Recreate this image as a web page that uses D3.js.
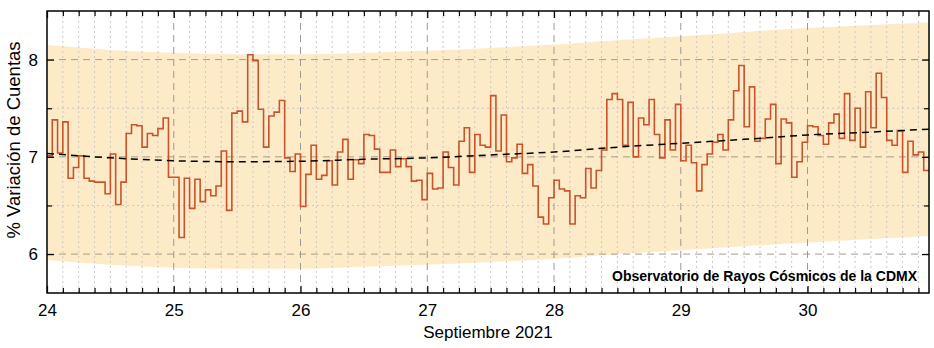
<!DOCTYPE html>
<html><head><meta charset="utf-8">
<script src="https://cdn.jsdelivr.net/npm/d3@7"></script>
<style>html,body{margin:0;padding:0;background:#fff;}svg{display:block;}</style>
</head><body>
<svg id="chart" width="934" height="348"></svg>
<script>
// Hourly values (% variation), one array per day of September 2021
const day24 = [7.01,7.38,7.04,7.36,6.78,6.89,7.01,6.78,6.75,6.74,6.74,6.62,7.03,6.51,6.74,7.24,7.33,7.32,7.10,7.24,7.22,7.29,7.40,6.79];
const day25 = [6.79,6.17,6.78,6.47,6.77,6.54,6.66,6.60,6.70,7.06,6.45,7.45,7.47,7.36,8.05,7.99,7.49,7.10,7.42,7.46,7.58,6.99,6.85,7.03];
const day26 = [6.49,6.82,7.12,6.77,6.81,6.96,6.71,7.05,7.18,6.77,6.97,6.93,7.23,7.22,7.08,6.84,6.84,7.07,6.90,6.98,6.90,6.75,6.76,6.56];
const day27 = [6.83,6.67,6.68,7.05,6.89,6.71,7.16,7.30,6.84,7.23,7.12,7.10,7.63,7.06,7.43,6.95,6.99,7.13,6.83,6.92,6.70,6.38,6.31,6.58];
const day28 = [6.76,6.67,6.65,6.31,6.60,6.58,6.88,6.68,6.86,7.07,7.59,7.65,7.59,7.12,7.56,7.00,7.40,7.33,7.59,7.23,6.99,7.38,7.07,7.54];
const day29 = [6.96,7.12,6.94,6.65,6.92,7.03,7.15,7.23,7.07,7.38,7.68,7.94,7.31,7.72,7.16,7.19,7.39,7.54,6.93,7.39,7.35,6.79,6.95,7.15];
const day30 = [7.32,7.31,7.22,7.13,7.35,7.44,7.19,7.65,7.17,7.50,7.10,7.67,7.30,7.86,7.61,7.17,7.12,7.27,6.84,7.16,7.02,7.05,6.86];
const dayStarts = [24,25,26,27,28,29,30];

// Trend and band (read at half-day points)
const trendDays  = [24,24.5,25,25.5,26,26.5,27,27.5,28,28.5,29,29.5,30,30.5,30.958];
const trendVals  = [7.035,6.99,6.96,6.95,6.955,6.975,6.99,7.02,7.05,7.10,7.14,7.18,7.225,7.255,7.285];
const bandUpper  = [8.15,8.10,8.07,8.055,8.055,8.07,8.09,8.12,8.155,8.20,8.24,8.285,8.325,8.355,8.385];
const bandLower  = [5.94,5.89,5.86,5.85,5.85,5.87,5.89,5.92,5.95,6.00,6.04,6.08,6.12,6.155,6.185];

const xTickLabels = ["24","25","26","27","28","29","30"];
const yTickVals = [6,7,8];
const yMinorVals = [6.5,7.5];

const W = 934, H = 348;
const m = {left:47, right:5, top:11, bottom:55};
const svg = d3.select("#chart");
const iw = W - m.left - m.right, ih = H - m.top - m.bottom;

// Build hourly series
const days = [day24,day25,day26,day27,day28,day29,day30];
const series = [];
days.forEach((arr,di)=>arr.forEach((v,h)=>series.push({t: dayStarts[di] + h/24, v})));
const tEnd = series[series.length-1].t + 1/24;
const stepData = series.concat([{t: tEnd, v: series[series.length-1].v}]);

const x = d3.scaleLinear().domain([24, tEnd]).range([m.left, m.left+iw]);
const y = d3.scaleLinear().domain([5.6, 8.5]).range([m.top+ih, m.top]);

const g = svg.append("g");
svg.append("defs").append("clipPath").attr("id","clip")
  .append("rect").attr("x",m.left).attr("y",m.top).attr("width",iw).attr("height",ih);

const plot = g.append("g").attr("clip-path","url(#clip)");

// Band
const bandData = trendDays.map((d,i)=>({t:d, hi:bandUpper[i], lo:bandLower[i]}));
plot.append("path").datum(bandData)
  .attr("d", d3.area().x(d=>x(d.t)).y0(d=>y(d.lo)).y1(d=>y(d.hi)).curve(d3.curveMonotoneX))
  .attr("fill","#fdebc8");

// Minor grid: 3-hour verticals
const nSteps = Math.floor((tEnd-24)*8+1e-6);
const allT = d3.range(0, nSteps+1).map(i=>24+i/8);
const isMajor = t=>Math.abs(t-Math.round(t))<1e-6;
const minorT = allT.filter(t=>!isMajor(t));
plot.selectAll(".vminor").data(minorT).enter().append("line")
  .attr("x1",d=>x(d)).attr("x2",d=>x(d)).attr("y1",m.top).attr("y2",m.top+ih)
  .attr("stroke","#c8c8c8").attr("stroke-width",1).attr("stroke-dasharray","2,3");
plot.selectAll(".hminor").data(yMinorVals).enter().append("line")
  .attr("x1",m.left).attr("x2",m.left+iw).attr("y1",d=>y(d)).attr("y2",d=>y(d))
  .attr("stroke","#c8c8c8").attr("stroke-width",1).attr("stroke-dasharray","2,3");

// Major grid
const majorT = dayStarts.slice(1);
plot.selectAll(".vmajor").data(majorT).enter().append("line")
  .attr("x1",d=>x(d)).attr("x2",d=>x(d)).attr("y1",m.top).attr("y2",m.top+ih)
  .attr("stroke","#9a9a9a").attr("stroke-width",1).attr("stroke-dasharray","7,5");
plot.selectAll(".hmajor").data(yTickVals).enter().append("line")
  .attr("x1",m.left).attr("x2",m.left+iw).attr("y1",d=>y(d)).attr("y2",d=>y(d))
  .attr("stroke","#a59c8a").attr("stroke-width",1).attr("stroke-dasharray","7,5");

// Data step line
plot.append("path").datum(stepData)
  .attr("d", d3.line().x(d=>x(d.t)).y(d=>y(d.v)).curve(d3.curveStepAfter))
  .attr("fill","none").attr("stroke","#c8532c").attr("stroke-width",1.6);

// Trend
plot.append("path").datum(trendDays.map((d,i)=>({t:d, v:trendVals[i]})))
  .attr("d", d3.line().x(d=>x(d.t)).y(d=>y(d.v)).curve(d3.curveMonotoneX))
  .attr("fill","none").attr("stroke","#000").attr("stroke-width",1.5).attr("stroke-dasharray","7,5");

// Axes with inward ticks
const font = "Liberation Sans, Arial, sans-serif";
const axB = d3.axisBottom(x).tickValues(allT)
  .tickSize(0).tickFormat(d=>isMajor(d)? xTickLabels[dayStarts.indexOf(Math.round(d))] : "");
const bx = g.append("g").attr("transform",`translate(0,${m.top+ih})`).call(axB);
bx.select(".domain").remove();
bx.selectAll("text").attr("dy","0").attr("y",23).attr("font-family",font).attr("font-size",17).attr("fill","#000");
bx.selectAll(".tick line").attr("y2",d=>isMajor(d)?-7:-5).attr("stroke","#000").attr("stroke-width",1.2);

const axT = d3.axisTop(x).tickValues(allT).tickSize(0).tickFormat("");
const tx = g.append("g").attr("transform",`translate(0,${m.top})`).call(axT);
tx.select(".domain").remove();
tx.selectAll(".tick line").attr("y2",d=>isMajor(d)?7:5).attr("stroke","#000").attr("stroke-width",1.2);

const yAll = [6,6.5,7,7.5,8];
const axL = d3.axisLeft(y).tickValues(yAll).tickSize(0).tickFormat(d=>yTickVals.includes(d)?String(d):"");
const ly = g.append("g").attr("transform",`translate(${m.left},0)`).call(axL);
ly.select(".domain").remove();
ly.selectAll("text").attr("x",-9).attr("font-family",font).attr("font-size",17).attr("fill","#000");
ly.selectAll(".tick line").attr("x2",d=>yTickVals.includes(d)?7:5).attr("stroke","#000").attr("stroke-width",1.2);

const axR = d3.axisRight(y).tickValues(yAll).tickSize(0).tickFormat("");
const ry = g.append("g").attr("transform",`translate(${m.left+iw},0)`).call(axR);
ry.select(".domain").remove();
ry.selectAll(".tick line").attr("x2",d=>yTickVals.includes(d)?-7:-5).attr("stroke","#000").attr("stroke-width",1.2);

// Frame
g.append("rect").attr("x",m.left).attr("y",m.top).attr("width",iw).attr("height",ih)
  .attr("fill","none").attr("stroke","#000").attr("stroke-width",1.5);

// Labels
g.append("text").attr("transform",`translate(20,140) rotate(-90)`)
  .attr("text-anchor","middle").attr("font-family",font)
  .attr("font-size",18.5).text("% Variación de Cuentas");
g.append("text").attr("x",m.left+iw/2).attr("y",338).attr("text-anchor","middle")
  .attr("font-family",font).attr("font-size",17).text("Septiembre 2021");
g.append("text").attr("x",m.left+iw-12).attr("y",281).attr("text-anchor","end")
  .attr("font-family",font).attr("font-weight","bold")
  .attr("font-size",14).text("Observatorio de Rayos Cósmicos de la CDMX");
</script>
</body></html>
